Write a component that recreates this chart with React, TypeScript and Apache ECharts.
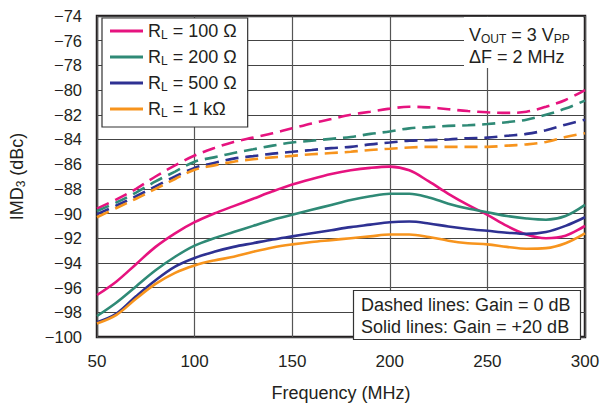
import React, { useEffect, useRef } from "react";
import * as echarts from "echarts";

const freq = [50, 60, 70, 80, 90, 100, 110, 120, 130, 140, 150, 160, 170, 180, 190, 200, 210, 220, 230, 240, 250, 260, 270, 280, 290, 300];

// Solid lines: Gain = +20 dB
const solid100 = [-96.6, -95.5, -94.1, -92.7, -91.6, -90.7, -90.0, -89.4, -88.8, -88.2, -87.65, -87.2, -86.8, -86.5, -86.3, -86.2, -86.5, -87.4, -88.4, -89.3, -90.1, -91.0, -91.7, -92.0, -91.8, -91.0];
const solid200 = [-98.3, -97.2, -95.9, -94.6, -93.5, -92.6, -92.0, -91.5, -91.0, -90.5, -90.1, -89.7, -89.3, -88.9, -88.6, -88.4, -88.4, -88.7, -89.2, -89.6, -89.9, -90.2, -90.4, -90.5, -90.2, -89.3];
const solid500 = [-98.8, -98.1, -96.7, -95.4, -94.3, -93.6, -93.1, -92.7, -92.4, -92.1, -91.85, -91.6, -91.35, -91.1, -90.9, -90.7, -90.65, -90.8, -91.05, -91.25, -91.4, -91.55, -91.65, -91.5, -91.0, -90.3];
const solid1k = [-98.9, -98.2, -96.9, -95.7, -94.8, -94.2, -93.8, -93.5, -93.1, -92.75, -92.5, -92.3, -92.15, -92.0, -91.85, -91.7, -91.7, -91.9, -92.2, -92.4, -92.5, -92.7, -92.85, -92.8, -92.4, -91.6];

// Dashed lines: Gain = 0 dB
const dashed100 = [-89.6, -88.85, -88.0, -87.0, -86.1, -85.3, -84.7, -84.2, -83.85, -83.5, -83.1, -82.7, -82.35, -82.0, -81.75, -81.5, -81.35, -81.4, -81.55, -81.7, -81.8, -81.85, -81.75, -81.35, -80.8, -80.0];
const dashed200 = [-89.8, -89.1, -88.3, -87.4, -86.6, -85.8, -85.45, -85.1, -84.8, -84.5, -84.25, -84.1, -83.95, -83.8, -83.55, -83.35, -83.1, -83.0, -82.9, -82.85, -82.75, -82.6, -82.4, -82.0, -81.5, -80.85];
const dashed500 = [-90.05, -89.35, -88.6, -87.8, -87.0, -86.3, -85.9, -85.55, -85.35, -85.15, -85.0, -84.85, -84.7, -84.6, -84.4, -84.25, -84.1, -84.05, -84.0, -83.9, -83.85, -83.7, -83.55, -83.25, -82.8, -82.4];
const dashed1k = [-90.3, -89.55, -88.8, -88.0, -87.2, -86.45, -86.1, -85.8, -85.6, -85.45, -85.33, -85.2, -85.1, -85.0, -84.85, -84.75, -84.65, -84.6, -84.6, -84.6, -84.6, -84.5, -84.4, -84.2, -83.8, -83.5];

const loadNames = ["100 Ω", "200 Ω", "500 Ω", "1 kΩ"];
const colors = ["#E6137F", "#2F8A76", "#2E3192", "#F7941D"];
const solidSets = [solid100, solid200, solid500, solid1k];
const dashedSets = [dashed100, dashed200, dashed500, dashed1k];

const xTicks = [50, 100, 150, 200, 250, 300];
const yMin = -100;
const yMax = -74;

const FONT = "'Liberation Sans', Arial, Helvetica, sans-serif";
const TXT = "#231F20";

export default function App() {
  const ref = useRef<HTMLDivElement>(null);

  useEffect(() => {
    if (!ref.current) return;
    const chart = echarts.init(ref.current, undefined, { renderer: "svg" });
    const pairs = (vals: number[]) => freq.map((f, i) => [f, vals[i]]);

    const series: any[] = [];
    dashedSets.forEach((vals, i) => {
      series.push({
        name: "dashed " + loadNames[i],
        type: "line",
        data: pairs(vals),
        smooth: 0.35,
        showSymbol: false,
        lineStyle: { color: colors[i], width: 2.6, type: [13, 7] },
        itemStyle: { color: colors[i] },
        z: 3,
      });
    });
    solidSets.forEach((vals, i) => {
      series.push({
        name: loadNames[i],
        type: "line",
        data: pairs(vals),
        smooth: 0.35,
        showSymbol: false,
        lineStyle: { color: colors[i], width: 2.6, type: "solid" },
        itemStyle: { color: colors[i] },
        z: 4,
      });
    });

    const sub = { fontSize: 12, fontFamily: FONT, color: TXT, lineHeight: 12, verticalAlign: "bottom" };
    const big = { fontSize: 18, fontFamily: FONT, color: TXT, lineHeight: 20 };

    chart.setOption({
      animation: false,
      textStyle: { fontFamily: FONT },
      grid: {
        left: 97,
        right: 18,
        top: 16,
        bottom: 66,
        show: true,
        borderColor: "#231F20",
        borderWidth: 2.5,
        backgroundColor: "#fff",
      },
      xAxis: {
        type: "value",
        min: xTicks[0],
        max: xTicks[xTicks.length - 1],
        interval: 50,
        name: "Frequency (MHz)",
        nameLocation: "middle",
        nameGap: 47,
        nameTextStyle: { fontSize: 18, color: TXT, fontFamily: FONT },
        axisLine: { show: false },
        axisTick: { show: false },
        axisLabel: { fontSize: 17, color: TXT, margin: 16, fontFamily: FONT },
        splitLine: { show: true, lineStyle: { color: "#555", width: 1.2 } },
      },
      yAxis: {
        type: "value",
        min: yMin,
        max: yMax,
        interval: 2,
        name: "{a|IMD}{s|3}{a| (dBc)}",
        nameLocation: "middle",
        nameGap: 70,
        nameTextStyle: {
          fontSize: 18,
          color: TXT,
          fontFamily: FONT,
          rich: { a: big, s: sub },
        },
        axisLine: { show: false },
        axisTick: { show: false },
        axisLabel: {
          fontSize: 16.5,
          color: TXT,
          margin: 15,
          fontFamily: FONT,
          formatter: (v: number) => String(v).replace("-", "\u2212"),
        },
        splitLine: { show: true, lineStyle: { color: "#444", width: 1.2 } },
      },
      legend: {
        data: loadNames,
        orient: "vertical",
        left: 102,
        top: 18,
        padding: [4, 11, 8, 8],
        itemGap: 7,
        itemWidth: 33,
        itemHeight: 3,
        icon: "rect",
        backgroundColor: "#fff",
        borderColor: "#333",
        borderWidth: 1.2,
        borderRadius: 0,
        formatter: (name: string) => "{a|R}{s|L}{a| = " + name + "}",
        textStyle: { fontSize: 18, color: TXT, fontFamily: FONT, rich: { a: big, s: sub } },
        z: 10,
      },
      graphic: [
        {
          type: "rect",
          shape: { x: 464, y: 17, width: 119, height: 51 },
          style: { fill: "#fff" },
          z: 10,
        },
        {
          type: "text",
          x: 469,
          y: 25,
          style: {
            text: "{a|V}{s|OUT}{a| = 3 V}{s|PP}",
            rich: { a: big, s: sub },
            fill: TXT,
          },
          z: 11,
        },
        {
          type: "text",
          x: 469,
          y: 48,
          style: { text: "ΔF = 2 MHz", font: "18px " + FONT, fill: TXT },
          z: 11,
        },
        {
          type: "rect",
          shape: { x: 353.5, y: 290.5, width: 227, height: 49 },
          style: { fill: "#fff", stroke: "#333", lineWidth: 1.2 },
          z: 10,
        },
        {
          type: "text",
          x: 361,
          y: 296,
          style: { text: "Dashed lines: Gain = 0 dB", font: "18px " + FONT, fill: TXT },
          z: 11,
        },
        {
          type: "text",
          x: 361,
          y: 318,
          style: { text: "Solid lines: Gain = +20 dB", font: "18px " + FONT, fill: TXT },
          z: 11,
        },
      ],
      series,
    });
    return () => chart.dispose();
  }, []);

  return (
    <div
      ref={ref}
      style={{ position: "fixed", left: 0, top: 0, width: 603, height: 407, background: "#fff" }}
    />
  );
}
